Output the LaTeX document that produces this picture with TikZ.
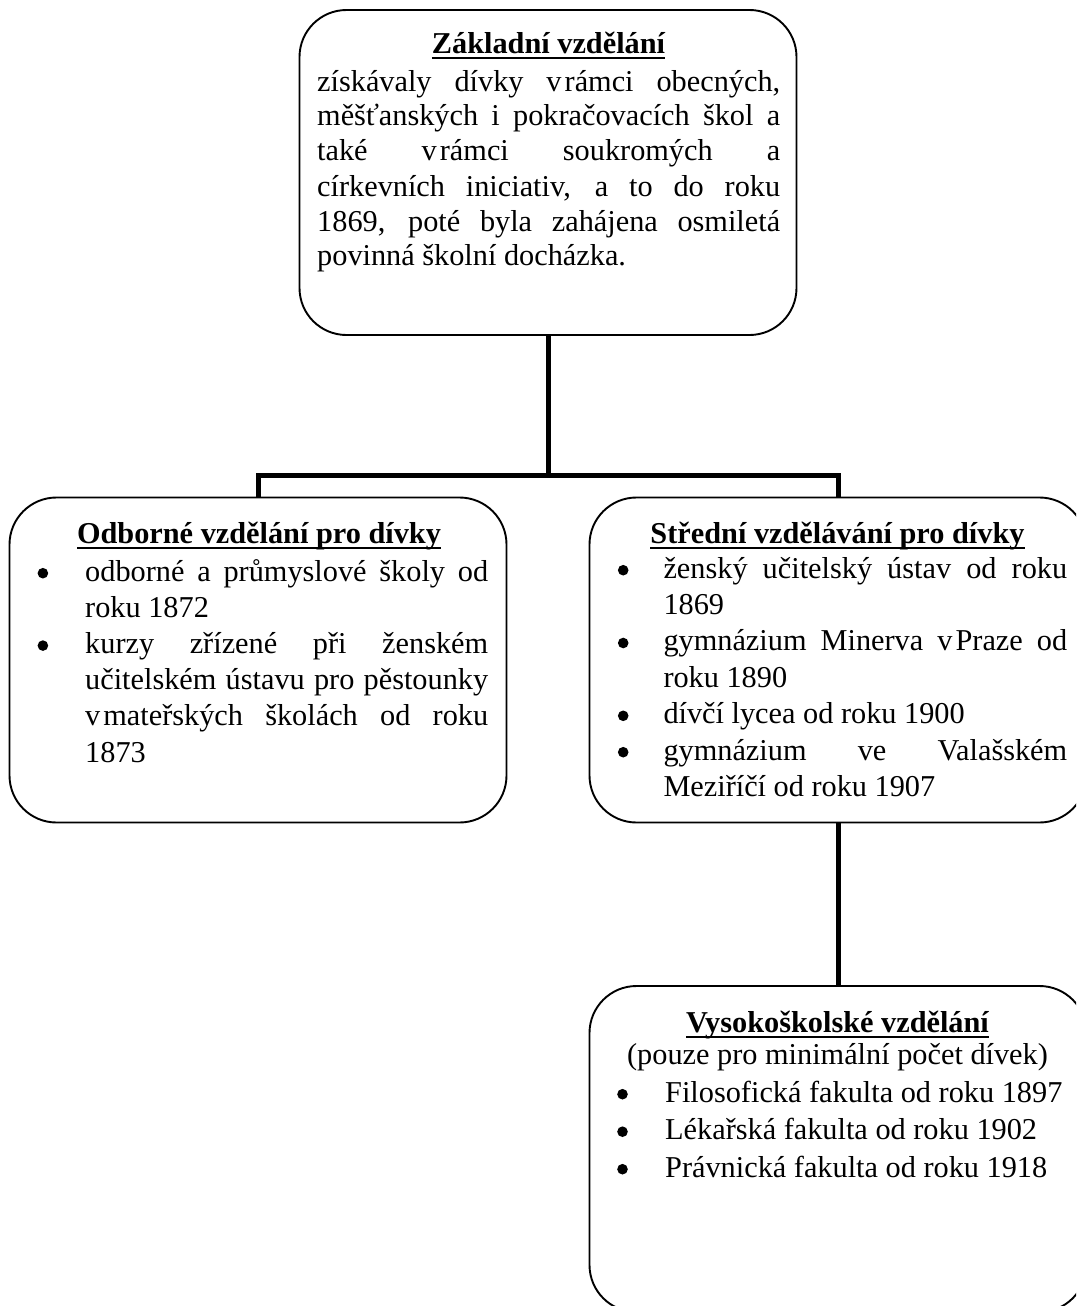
\documentclass[tikz,border=0pt]{standalone}
\usepackage{fontspec}
\setmainfont{Liberation Serif}
\newcommand{\fs}{\fontsize{30.3pt}{35pt}\selectfont}
\newcommand{\ulb}[1]{\sbox0{\bfseries #1}\rlap{\rule[-0.19em]{\wd0}{0.066em}}\usebox0}
\newcommand{\lstset}[1]{\fontsize{30.3pt}{#1}\selectfont\hbadness=10000\tolerance=10000\parindent=0pt}
\newcommand{\bdot}{\tikz[baseline=0pt]\fill[black] (5.3pt,7.8pt) circle[radius=5.3pt];}
\newcommand{\bitem}[2]{\par\noindent\hangindent=#1\hangafter=1\makebox[#1][l]{\bdot}#2\par}
\begin{document}
\begin{tikzpicture}[x=1pt,y=-1pt,
  box/.style={draw, line width=1.9pt, rounded corners=47pt, inner sep=0pt,
    minimum width=497pt, minimum height=325pt},
  conn/.style={line width=5pt},
  ttl/.style={anchor=base, inner sep=0pt, font=\fs},
  txt/.style={anchor=base west, inner sep=0pt, font=\fs}]
\clip (0,0) rectangle (1076,1306);
% boxes
\node[box] (top) at (548,172.5) {};
\node[box] (odb) at (258,660) {};
\node[box] (str) at (838,660) {};
\node[box, minimum height=326pt] (vys) at (838,1149) {};
% connectors
\coordinate (bus) at (548,475);
\draw[conn] (top.south) -- (bus);
\draw[conn] (odb.north) |- (bus) -| (str.north);
\draw[conn] (str.south) -- (vys.north);
% top box text
\node[ttl] (zt) at (548.5,53) {\ulb{Základní vzdělání}};
\node[txt] (zb) at (317,91) {\parbox[t]{463pt}{\lstset{35pt}%
získávaly dívky v\hspace{0.1em}rámci obecných,\linebreak
měšťanských i pokračovacích škol a\linebreak
také v\hspace{0.1em}rámci soukromých a\linebreak
církevních iniciativ, a to do roku\linebreak
1869, poté byla zahájena osmiletá\linebreak
povinná školní docházka.}};
% left box text
\node[ttl] (ot) at (259,543) {\ulb{Odborné vzdělání pro dívky}};
\node[txt] (ol) at (37.4,581) {\parbox[t]{450.6pt}{\lstset{36.2pt}%
\bitem{47.6pt}{odborné a průmyslové školy od\linebreak roku 1872}%
\bitem{47.6pt}{kurzy zřízené při ženském\linebreak učitelském ústavu pro pěstounky\linebreak v\hspace{0.1em}mateřských školách od roku\linebreak 1873}}};
% right box text
\node[ttl] (st) at (837.5,543) {\ulb{Střední vzdělávání pro dívky}};
\node[txt] (sl) at (617.7,578) {\parbox[t]{449.3pt}{\lstset{36.4pt}%
\bitem{45.6pt}{ženský učitelský ústav od roku\linebreak 1869}%
\bitem{45.6pt}{gymnázium Minerva v\hspace{0.1em}Praze od\linebreak roku 1890}%
\bitem{45.6pt}{dívčí lycea od roku 1900}%
\bitem{45.6pt}{gymnázium ve Valašském\linebreak Meziříčí od roku 1907}}};
% bottom box text
\node[ttl] (vt) at (837.5,1032) {\ulb{Vysokoškolské vzdělání}};
\node[ttl] (vs) at (837.5,1064) {(pouze pro minimální počet dívek)};
\node[txt] (vl) at (617,1102) {\parbox[t]{470pt}{\lstset{37.5pt}%
\bitem{48pt}{Filosofická fakulta od roku 1897}%
\bitem{48pt}{Lékařská fakulta od roku 1902}%
\bitem{48pt}{Právnická fakulta od roku 1918}}};
\end{tikzpicture}
\end{document}
